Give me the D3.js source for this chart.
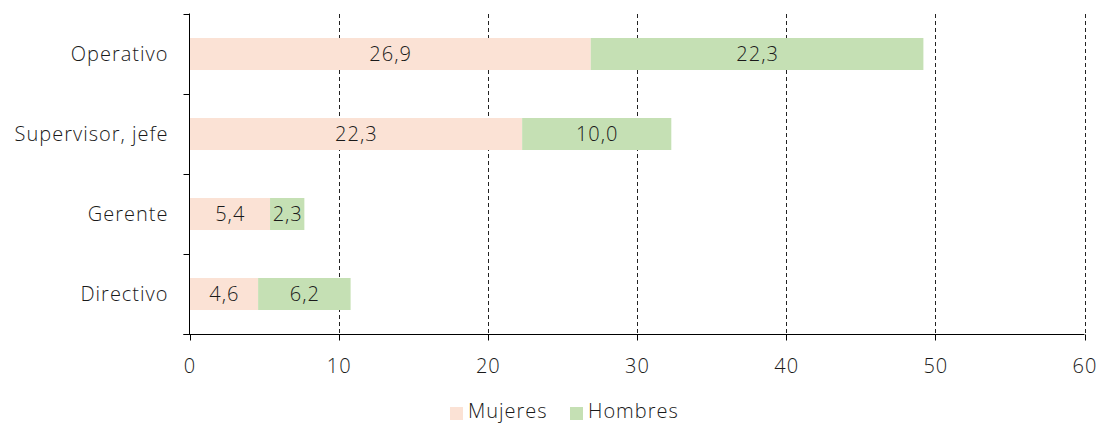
<!DOCTYPE html>
<html><head><meta charset="utf-8">
<script src="https://cdn.jsdelivr.net/npm/d3@7"></script>
<style>
html,body{margin:0;padding:0;background:#fff;}
text{font-family:"Open Sans",sans-serif;font-weight:300;fill:#1a1a1a;letter-spacing:1px;}
</style></head>
<body>
<svg id="chart" width="1099" height="425"></svg>
<script>
const categories = ["Operativo", "Supervisor, jefe", "Gerente", "Directivo"];
const seriesNames = ["Mujeres", "Hombres"];
const mujeres = [26.9, 22.3, 5.4, 4.6];
const hombres = [22.3, 10.0, 2.3, 6.2];
const xTicks = [0, 10, 20, 30, 40, 50, 60];
const colors = ["#fbe2d5", "#c5e0b4"];

(function () {
const svg = d3.select("#chart");
const mLeft = 189.5, mRight = 1084.5, mTop = 14, mBottom = 334;
const fs = 20;
const x = d3.scaleLinear().domain([0, 60]).range([mLeft, mRight]);
const y = d3.scaleBand().domain(categories).range([mTop, mBottom]).paddingInner(0.6).paddingOuter(0.3);
const fmt = v => v.toFixed(1).replace(".", ",");

// gridlines
svg.append("g").selectAll("line").data(xTicks.filter(t => t > 0)).join("line")
  .attr("x1", d => Math.round(x(d)) + 0.5).attr("x2", d => Math.round(x(d)) + 0.5)
  .attr("y1", mTop).attr("y2", mBottom)
  .attr("stroke", "#222").attr("stroke-width", 1).attr("stroke-dasharray", "4,3");

const stackData = categories.map((c, i) => ({cat: c, Mujeres: mujeres[i], Hombres: hombres[i]}));
const stacked = d3.stack().keys(seriesNames)(stackData);

const layers = svg.append("g").selectAll("g").data(stacked).join("g")
  .attr("fill", (d, i) => colors[i]);
layers.selectAll("rect").data(d => d).join("rect")
  .attr("x", d => x(d[0])).attr("width", d => x(d[1]) - x(d[0]))
  .attr("y", d => y(d.data.cat)).attr("height", y.bandwidth());

// value labels
svg.append("g").selectAll("g").data(stacked).join("g")
  .selectAll("text").data(d => d.map(v => ({v, key: d.key}))).join("text")
  .attr("x", d => (x(d.v[0]) + x(d.v[1])) / 2 + 0.5)
  .attr("y", d => y(d.v.data.cat) + y.bandwidth() / 2)
  .attr("dy", "0.35em").attr("text-anchor", "middle").attr("font-size", fs)
  .text(d => fmt(d.v.data[d.key]));

// y axis
const yAxis = svg.append("g").attr("transform", `translate(${mLeft},0)`);
yAxis.append("line").attr("x1", 0).attr("x2", 0).attr("y1", mTop - 0.5).attr("y2", mBottom + 0.5).attr("stroke", "#000");
const yBounds = d3.range(categories.length + 1).map(i => mTop + i * y.step());
yAxis.selectAll("line.tk").data(yBounds).join("line").attr("class", "tk")
  .attr("x1", -6).attr("x2", 0).attr("y1", d => Math.round(d) + 0.5).attr("y2", d => Math.round(d) + 0.5).attr("stroke", "#000");
yAxis.selectAll("text").data(categories).join("text")
  .attr("x", -21).attr("y", d => y(d) + y.bandwidth() / 2).attr("dy", "0.35em")
  .attr("text-anchor", "end").attr("font-size", fs).text(d => d);

// x axis
const xAxis = svg.append("g").attr("transform", `translate(0,${mBottom + 0.5})`);
xAxis.append("line").attr("x1", mLeft - 6).attr("x2", mRight).attr("stroke", "#000");
xAxis.selectAll("line.tk").data(xTicks).join("line").attr("class", "tk")
  .attr("x1", d => Math.round(x(d)) + 0.5).attr("x2", d => Math.round(x(d)) + 0.5)
  .attr("y1", 0).attr("y2", 6).attr("stroke", "#000");
xAxis.selectAll("text").data(xTicks).join("text")
  .attr("x", d => x(d) + 0.5).attr("y", 31).attr("dy", "0.35em")
  .attr("text-anchor", "middle").attr("font-size", fs).text(d => d);

// legend
const legend = svg.append("g");
const lx = [450, 570];
seriesNames.forEach((s, i) => {
  legend.append("rect").attr("x", lx[i]).attr("y", 407).attr("width", 13).attr("height", 13).attr("fill", colors[i]);
  legend.append("text").attr("x", lx[i] + 18).attr("y", 411).attr("dy", "0.35em").attr("font-size", fs).text(s);
});
})();
</script>
</body></html>
